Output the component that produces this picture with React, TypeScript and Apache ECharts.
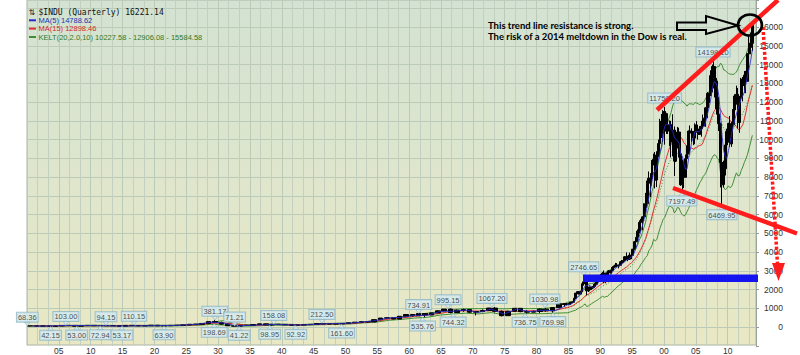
import React, { useEffect, useRef } from "react";
import * as echarts from "echarts";

// ---------- DATA ----------
// Annual bars 1900-1984: [open, close, low, high]
const EARLY_START = 1900;
const EARLY_OHLC: number[][] = [
  [68.1, 70.7, 53.0, 71.0], [70.7, 64.6, 61.5, 78.3], [64.6, 64.3, 59.6, 68.4], [64.3, 49.1, 42.2, 67.7],
  [49.1, 69.6, 46.4, 73.2], [69.6, 96.2, 68.8, 96.6], [96.2, 94.4, 85.2, 103.0], [94.4, 58.8, 53.0, 96.4],
  [58.8, 86.2, 58.6, 88.4], [86.2, 99.1, 79.9, 100.5], [99.1, 81.4, 73.6, 98.3], [81.4, 81.7, 72.9, 87.1],
  [81.7, 87.9, 80.2, 94.2], [87.9, 78.8, 72.1, 88.6], [78.8, 54.6, 53.2, 83.4], [54.6, 99.2, 54.2, 99.2],
  [99.2, 95.0, 85.0, 110.2], [95.0, 74.4, 66.0, 99.2], [74.4, 82.2, 73.4, 89.1], [82.2, 107.2, 79.2, 119.6],
  [107.2, 72.0, 66.8, 109.9], [72.0, 81.1, 63.9, 81.5], [81.1, 98.7, 78.6, 103.4], [98.7, 95.5, 85.8, 105.4],
  [95.5, 120.5, 88.3, 120.5], [120.5, 156.7, 115.0, 159.4], [156.7, 157.2, 135.2, 166.6], [157.2, 202.4, 152.7, 202.4],
  [202.4, 300.0, 191.3, 300.0], [300.0, 248.5, 198.7, 381.2], [248.5, 164.6, 157.5, 294.1], [164.6, 77.9, 73.8, 194.4],
  [77.9, 59.9, 41.2, 79.9], [59.9, 99.9, 50.2, 108.7], [99.9, 104.0, 85.5, 110.7], [104.0, 144.1, 96.7, 148.4],
  [144.1, 179.9, 143.1, 184.9], [179.9, 121.0, 113.6, 194.4], [121.0, 154.8, 99.0, 158.4], [154.8, 150.2, 121.4, 155.9],
  [150.2, 131.1, 111.8, 152.8], [131.1, 111.0, 106.3, 133.6], [111.0, 119.4, 92.9, 119.7], [119.4, 135.9, 119.3, 145.8],
  [135.9, 152.3, 134.2, 152.5], [152.3, 192.9, 151.4, 195.8], [192.9, 177.2, 163.1, 212.5], [177.2, 181.2, 163.2, 186.9],
  [181.2, 177.3, 165.4, 193.2], [177.3, 200.1, 161.6, 200.5], [200.1, 235.4, 196.8, 235.5], [235.4, 269.2, 235.0, 276.4],
  [269.2, 291.9, 256.4, 292.0], [291.9, 280.9, 255.5, 293.8], [280.9, 404.4, 279.9, 404.4], [404.4, 488.4, 388.2, 488.4],
  [488.4, 499.5, 462.4, 521.1], [499.5, 435.7, 419.8, 520.8], [435.7, 583.7, 435.0, 583.7], [583.7, 679.4, 574.5, 679.4],
  [679.4, 615.9, 566.1, 685.5], [615.9, 731.1, 610.3, 734.9], [731.1, 652.1, 535.8, 731.1], [652.1, 762.9, 646.8, 767.2],
  [762.9, 874.1, 762.0, 891.7], [874.1, 969.3, 840.6, 969.3], [969.3, 785.7, 744.3, 995.2], [785.7, 905.1, 785.0, 943.1],
  [905.1, 943.8, 825.1, 985.2], [943.8, 800.4, 769.9, 968.9], [800.4, 838.9, 631.2, 842.0], [838.9, 890.2, 798.0, 950.8],
  [890.2, 1020.0, 889.2, 1036.3], [1020.0, 850.9, 788.3, 1067.2], [850.9, 616.2, 577.6, 891.7], [616.2, 852.4, 616.0, 881.8],
  [852.4, 1004.7, 852.0, 1014.8], [1004.7, 831.2, 800.9, 1004.7], [831.2, 805.0, 736.8, 907.7], [805.0, 838.7, 796.7, 897.6],
  [838.7, 964.0, 759.1, 1000.2], [964.0, 875.0, 824.0, 1031.0], [875.0, 1046.5, 770.0, 1070.6], [1046.5, 1258.6, 1027.0, 1287.2],
  [1258.6, 1211.6, 1086.6, 1286.6],
];

// Quarterly bars 1985Q1-2013Q4: [open, close, low, high]
const LATE_START = 1985;
const LATE_OHLC: number[][] = [
  [1211.6, 1266.8, 1184, 1299], [1266.8, 1335.5, 1230, 1338], [1335.5, 1328.6, 1297, 1372], [1328.6, 1546.7, 1325, 1553],
  [1546.7, 1818.6, 1502, 1822], [1818.6, 1892.7, 1735, 1902], [1892.7, 1767.6, 1755, 1919], [1767.6, 1896.0, 1755, 1955],
  [1896.0, 2304.7, 1895, 2333], [2304.7, 2418.5, 2215, 2445], [2418.5, 2596.3, 2400, 2746.7], [2596.3, 1938.8, 1700, 2662],
  [1938.8, 1988.1, 1879, 2153], [1988.1, 2141.7, 1980, 2164], [2141.7, 2112.9, 1990, 2160], [2112.9, 2168.6, 2038, 2200],
  [2168.6, 2293.6, 2127, 2347], [2293.6, 2440.1, 2270, 2540], [2440.1, 2692.8, 2420, 2791], [2692.8, 2753.2, 2523, 2790],
  [2753.2, 2707.2, 2543, 2834], [2707.2, 2880.7, 2611, 2935], [2880.7, 2452.5, 2344, 3024], [2452.5, 2633.7, 2344, 2650],
  [2633.7, 2913.9, 2447, 3017], [2913.9, 2906.8, 2842, 3046], [2906.8, 3016.8, 2858, 3055], [3016.8, 3168.8, 2836, 3204],
  [3168.8, 3235.5, 3135, 3290], [3235.5, 3318.5, 3181, 3428], [3318.5, 3271.7, 3223, 3419], [3271.7, 3301.1, 3136, 3333],
  [3301.1, 3435.1, 3241, 3505], [3435.1, 3516.1, 3370, 3580], [3516.1, 3555.1, 3434, 3652], [3555.1, 3754.1, 3540, 3794],
  [3754.1, 3636.0, 3580, 3985], [3636.0, 3625.0, 3520, 3810], [3625.0, 3843.2, 3600, 3978], [3843.2, 3834.4, 3630, 3936],
  [3834.4, 4157.7, 3830, 4172], [4157.7, 4556.1, 4140, 4600], [4556.1, 4789.1, 4535, 4801], [4789.1, 5117.1, 4703, 5216],
  [5117.1, 5587.1, 5000, 5691], [5587.1, 5654.6, 5419, 5779], [5654.6, 5882.2, 5170, 5905], [5882.2, 6448.3, 5847, 6605],
  [6448.3, 6583.5, 6395, 7159], [6583.5, 7672.8, 6365, 7812], [7672.8, 7945.3, 7636, 8300], [7945.3, 7908.3, 6936, 8211],
  [7908.3, 8799.8, 7540, 8906], [8799.8, 8952.0, 8627, 9250], [8952.0, 7842.6, 7400, 9338], [7842.6, 9181.4, 7468, 9380],
  [9181.4, 9786.2, 9063, 10001], [9786.2, 10970.8, 9717, 11108], [10970.8, 10337.0, 10080, 11366], [10337.0, 11497.1, 9884, 11568],
  [11497.1, 10921.9, 9731, 11750.2], [10921.9, 10447.9, 10300, 11425], [10447.9, 10650.9, 10300, 11400], [10650.9, 10787.0, 9654, 11020],
  [10787.0, 9878.8, 9047, 11000], [9878.8, 10502.4, 9106, 11350], [10502.4, 8847.6, 8062, 10700], [8847.6, 10021.5, 8800, 10184],
  [10021.5, 10403.9, 9529, 10673], [10403.9, 9243.3, 9043, 10635], [9243.3, 7591.9, 7532, 9300], [7591.9, 8341.6, 7197.5, 8931],
  [8341.6, 7992.1, 7416, 8869], [7992.1, 8985.4, 7992, 9200], [8985.4, 9275.1, 8950, 9686], [9275.1, 10453.9, 9200, 10484],
  [10453.9, 10357.7, 9906, 10753], [10357.7, 10435.5, 9852, 10600], [10435.5, 10080.3, 9708, 10437], [10080.3, 10783.0, 9750, 10868],
  [10783.0, 10503.8, 10368, 10984], [10503.8, 10275.0, 10000, 10650], [10275.0, 10568.7, 10250, 10720], [10568.7, 10717.5, 10156, 11000],
  [10717.5, 11109.3, 10661, 11334], [11109.3, 11150.2, 10700, 11709], [11150.2, 11679.1, 10683, 11727], [11679.1, 12463.2, 11600, 12529],
  [12463.2, 12354.4, 11939, 12796], [12354.4, 13408.6, 12354, 13692], [13408.6, 13895.6, 12518, 14000], [13895.6, 13264.8, 12725, 14198.1],
  [13264.8, 12262.9, 11634, 13280], [12262.9, 11350.0, 11287, 13136], [11350.0, 10850.7, 10459, 11867], [10850.7, 8776.4, 7450, 10900],
  [8776.4, 7608.9, 6470, 9088], [7608.9, 8447.0, 7447, 8877], [8447.0, 9712.3, 8087, 9917], [9712.3, 10428.1, 9430, 10580],
  [10428.1, 10856.6, 9835, 10900], [10856.6, 9774.0, 9600, 11258], [9774.0, 10788.1, 9614, 10948], [10788.1, 11577.5, 10711, 11625],
  [11577.5, 12319.7, 11555, 12419], [12319.7, 12414.3, 11862, 12876], [12414.3, 10913.4, 10597, 12754], [10913.4, 12217.6, 10362, 12330],
  [12217.6, 13212.0, 12150, 13290], [13212.0, 12880.1, 12035, 13338], [12880.1, 13437.1, 12492, 13653], [13437.1, 13104.1, 12471, 13662],
  [13104.1, 14578.5, 13104, 14585], [14578.5, 14909.6, 14434, 15542], [14909.6, 15129.7, 14551, 15709], [15129.7, 16221.1, 14719, 16318],
];

// Indicator values, sparse before 1985 (year-end points)
const EARLY_LINE_YEARS = [1900, 1902, 1906, 1910, 1914, 1918, 1922, 1926, 1928, 1930, 1932, 1934, 1938, 1942, 1946, 1950, 1952, 1954, 1956, 1958, 1960, 1962, 1964, 1966, 1968, 1970, 1972, 1974, 1976, 1978, 1980, 1982, 1984];
const MA5_EARLY = [68, 64, 95, 87, 62, 80, 93, 157, 271, 226, 65, 100, 145, 115, 185, 222, 284, 360, 495, 530, 630, 640, 840, 850, 920, 780, 970, 700, 970, 830, 900, 880, 1195];
const MA15_EARLY = [68, 66, 77, 81, 76, 88, 90, 133, 204, 232, 170, 87, 148, 125, 170, 195, 258, 315, 440, 495, 580, 660, 740, 860, 880, 860, 880, 850, 840, 880, 860, 900, 1056];
const KMID_EARLY = [68, 66, 80, 85, 74, 83, 89, 135, 208, 235, 110, 92, 142, 120, 172, 200, 260, 320, 430, 490, 580, 640, 740, 830, 870, 850, 890, 820, 860, 860, 860, 900, 1050];
const KUP_EARLY = [80, 82, 99, 105, 92, 103, 110, 167, 258, 355, 170, 122, 176, 140, 202, 224, 288, 364, 490, 560, 670, 750, 830, 950, 990, 990, 1000, 980, 1010, 990, 1000, 1050, 1330];
const KLO_EARLY = [56, 50, 61, 64, 56, 63, 67, 102, 158, 115, 50, 62, 108, 100, 142, 176, 232, 276, 370, 420, 490, 530, 650, 710, 750, 710, 780, 660, 710, 730, 720, 750, 770];

// Quarterly indicator values 1985Q1-2013Q4
const MA5_LATE = [
  1196, 1231, 1270, 1338, 1459, 1584, 1671, 1784, 1936, 2056, 2197, 2231, 2249, 2217, 2156, 2070,
  2141, 2231, 2342, 2470, 2577, 2695, 2697, 2685, 2718, 2758, 2785, 2928, 3048, 3129, 3202, 3259,
  3312, 3369, 3416, 3512, 3579, 3617, 3683, 3739, 3819, 4003, 4236, 4491, 4841, 5141, 5406, 5738,
  6031, 6448, 6906, 7312, 7782, 8256, 8290, 8537, 8912, 9347, 9624, 10355, 10703, 10835, 10771, 10861,
  10537, 10453, 10133, 10007, 9931, 9804, 9222, 9120, 8715, 8431, 8437, 9010, 9413, 9902, 10121, 10422,
  10432, 10416, 10442, 10570, 10635, 10764, 11045, 11424, 11751, 12211, 12760, 13077, 13037, 12836, 12325, 11301,
  10170, 9407, 9079, 8995, 9411, 9844, 10312, 10685, 11063, 11375, 11603, 11889, 12215, 12327, 12532, 12970,
  13442, 13782, 14232, 14789,
];
const MA15_LATE = [
  1075, 1108, 1138, 1186, 1253, 1320, 1368, 1419, 1491, 1570, 1659, 1711, 1768, 1830, 1890, 1950,
  2014, 2088, 2165, 2227, 2281, 2356, 2393, 2415, 2448, 2468, 2540, 2619, 2692, 2772, 2846, 2913,
  2979, 3034, 3088, 3157, 3208, 3286, 3367, 3428, 3511, 3614, 3722, 3847, 3999, 4158, 4330, 4530,
  4735, 5009, 5289, 5574, 5919, 6259, 6526, 6861, 7210, 7622, 7970, 8364, 8715, 9020, 9300, 9580,
  9727, 9898, 9960, 10042, 10139, 10232, 10126, 10030, 9831, 9741, 9593, 9562, 9556, 9541, 9494, 9554,
  9554, 9650, 9686, 9707, 9831, 10069, 10291, 10589, 10814, 11089, 11319, 11513, 11634, 11719, 11724, 11608,
  11431, 11289, 11222, 11177, 11157, 11030, 10919, 10867, 10794, 10695, 10539, 10536, 10660, 10795, 11106, 11472,
  11881, 12227, 12541, 12898,
];
const KMID_LATE = [
  1071, 1096, 1118, 1159, 1222, 1286, 1331, 1385, 1473, 1563, 1661, 1688, 1716, 1757, 1791, 1827,
  1871, 1925, 1998, 2070, 2131, 2202, 2226, 2265, 2327, 2382, 2442, 2512, 2580, 2651, 2710, 2766,
  2830, 2895, 2958, 3034, 3091, 3142, 3209, 3268, 3353, 3467, 3593, 3738, 3914, 4080, 4252, 4461,
  4663, 4949, 5235, 5489, 5804, 6104, 6270, 6547, 6855, 7247, 7541, 7918, 8204, 8417, 8630, 8835,
  8935, 9084, 9061, 9153, 9272, 9269, 9110, 9036, 8937, 8942, 8973, 9114, 9233, 9347, 9417, 9547,
  9638, 9699, 9782, 9871, 9989, 10099, 10250, 10460, 10641, 10904, 11189, 11386, 11470, 11458, 11401, 11151,
  10814, 10588, 10505, 10498, 10532, 10460, 10491, 10594, 10759, 10916, 10916, 11040, 11247, 11402, 11596, 11739,
  12010, 12286, 12557, 12906,
];
const KUP_LATE = [
  1347, 1366, 1376, 1437, 1536, 1602, 1647, 1711, 1853, 1951, 2079, 2274, 2298, 2319, 2329, 2345,
  2381, 2437, 2534, 2606, 2671, 2752, 2858, 2895, 3007, 3036, 3070, 3150, 3186, 3245, 3284, 3322,
  3384, 3435, 3488, 3562, 3647, 3700, 3787, 3850, 3945, 4091, 4209, 4394, 4642, 4808, 5054, 5335,
  5603, 6083, 6389, 6783, 7242, 7522, 7934, 8427, 8735, 9217, 9571, 10082, 10556, 10759, 10958, 11203,
  11457, 11802, 12035, 12107, 12158, 12185, 12088, 12064, 11953, 11898, 11781, 11898, 11907, 11903, 11863, 11973,
  11944, 11905, 11862, 11911, 11959, 12075, 12236, 12434, 12589, 12924, 13305, 13584, 13778, 13904, 13885, 14077,
  13970, 13714, 13685, 13590, 13528, 13488, 13483, 13470, 13519, 13604, 13766, 13998, 14137, 14264, 14404, 14505,
  14796, 15014, 15245, 15584.58,
];
const KLO_LATE = [
  795, 826, 860, 881, 908, 970, 1015, 1059, 1093, 1175, 1243, 1102, 1134, 1195, 1253, 1309,
  1361, 1413, 1462, 1534, 1591, 1652, 1594, 1635, 1647, 1728, 1814, 1874, 1974, 2057, 2136, 2210,
  2276, 2355, 2428, 2506, 2535, 2584, 2631, 2686, 2761, 2843, 2977, 3082, 3186, 3352, 3450, 3587,
  3723, 3815, 4081, 4195, 4366, 4686, 4606, 4667, 4975, 5277, 5511, 5754, 5852, 6075, 6302, 6467,
  6413, 6366, 6087, 6199, 6386, 6353, 6132, 6008, 5921, 5986, 6165, 6330, 6559, 6791, 6971, 7121,
  7332, 7493, 7702, 7831, 8019, 8123, 8264, 8486, 8693, 8884, 9073, 9188, 9162, 9012, 8917, 8225,
  7658, 7462, 7325, 7406, 7536, 7432, 7499, 7718, 7999, 8228, 8066, 8082, 8357, 8540, 8788, 8973,
  9224, 9558, 9869, 10227.58,
];

// Price call-outs: [date (year), value, text, side]
const CALLOUTS: [number, number, string, "top" | "bottom"][] = [
  [1900.05, 68.36, "68.36", "top"], [1903.7, 42.15, "42.15", "bottom"], [1906.1, 103.0, "103.00", "top"],
  [1907.8, 53.0, "53.00", "bottom"], [1912.4, 94.15, "94.15", "top"], [1911.5, 72.94, "72.94", "bottom"],
  [1914.9, 53.17, "53.17", "bottom"], [1916.8, 110.15, "110.15", "top"], [1921.5, 63.9, "63.90", "bottom"],
  [1929.5, 381.17, "381.17", "top"], [1929.4, 198.69, "198.69", "bottom"], [1932.6, 71.21, "71.21", "top"],
  [1933.3, 41.22, "41.22", "bottom"], [1938.75, 158.08, "158.08", "top"], [1938.1, 98.95, "98.95", "bottom"],
  [1942.2, 92.92, "92.92", "bottom"], [1946.3, 212.5, "212.50", "top"], [1949.4, 161.6, "161.60", "bottom"],
  [1961.5, 734.91, "734.91", "top"], [1962.1, 535.76, "535.76", "bottom"], [1966.1, 995.15, "995.15", "top"],
  [1966.9, 744.32, "744.32", "bottom"], [1973.0, 1067.2, "1067.20", "top"], [1978.2, 736.75, "736.75", "bottom"],
  [1981.3, 1030.98, "1030.98", "top"], [1982.55, 769.98, "769.98", "bottom"], [1987.4, 2746.65, "2746.65", "top"],
  [2000.1, 11750.2, "11750.20", "top"], [2002.8, 7197.49, "7197.49", "bottom"], [2007.7, 14198.1, "14198.10", "top"],
  [2009.1, 6469.95, "6469.95", "bottom"],
];

const HEADER_TITLE = "$INDU (Quarterly) 16221.14";
const HEADER_MA5 = "MA(5) 14788.62";
const HEADER_MA15 = "MA(15) 12898.46";
const HEADER_KELT = "KELT(20,2.0,10) 10227.58 - 12906.08 - 15584.58";
const NOTE_1 = "This trend line resistance is strong.";
const NOTE_2 = "The risk of a 2014 meltdown in the Dow is real.";

// ---------- helpers ----------
const earlyX = (i: number) => EARLY_START + i + 0.5;
const lateX = (i: number) => LATE_START + 0.125 + i * 0.25;
const linePts = (early: number[], late: number[]) => [
  ...EARLY_LINE_YEARS.map((y, i) => [y + 0.875, early[i]]),
  ...late.map((v, i) => [lateX(i), v]),
];

const BLUE = "#2a2ad0";
const RED = "#e23030";
const GREEN = "#3f8f35";

export default function App() {
  const ref = useRef<HTMLDivElement>(null);
  useEffect(() => {
    if (!ref.current) return;
    const chart = echarts.init(ref.current, undefined, { renderer: "svg" });
    const bg = new echarts.graphic.LinearGradient(0, 0, 0, 1, [
      { offset: 0, color: "#d3e2d2" },
      { offset: 0.55, color: "#dfe6cc" },
      { offset: 1, color: "#e9e8c4" },
    ]);
    const txt = (text: string, x: number, y: number, fill: string, font: string) => ({
      type: "text", x, y, z: 50,
      style: { text, fill, font, verticalAlign: "middle", align: "left" },
    });
    const candleStyle = { color: "#000", color0: "#000", borderColor: "#000", borderColor0: "#000", borderWidth: 1 };
    const option: any = {
      animation: false,
      grid: { left: 27, right: 44, top: 0, bottom: 8.72 },
      xAxis: {
        type: "value", min: 1900, max: 2014.45, interval: 5,
        axisLine: { show: false }, axisTick: { show: false },
        axisLabel: {
          margin: 0, fontSize: 8.5, color: "#333", fontFamily: "Liberation Sans",
          formatter: (v: number) => {
            const r = Math.round(v);
            if (Math.abs(v - r) > 1e-6 || r % 5 !== 0 || r === 1900) return "";
            return String(r % 100).padStart(2, "0");
          },
        },
        splitLine: { show: true, showMaxLine: false, lineStyle: { color: "#bccab8", width: 1 } },
        minorTick: { show: false, splitNumber: 3 },
        minorSplitLine: { show: true, lineStyle: { color: "#c3d0bf", width: 1 } },
      },
      yAxis: {
        type: "value", position: "right", min: -1000, max: 17439, interval: 1000,
        axisLine: { show: true, lineStyle: { color: "#9aa69a" } },
        axisTick: { show: true, length: 3, lineStyle: { color: "#999" } },
        axisLabel: {
          align: "right", margin: 27, fontSize: 8.5, color: "#333", fontFamily: "Liberation Sans",
          formatter: (v: number) => (v < 0 || v > 16000 ? "" : String(v)),
        },
        splitLine: { show: true, showMinLine: false, showMaxLine: false, lineStyle: { color: "#bccab8" } },
      },
      series: [
        { type: "line", z: 2, symbol: "none", data: linePts(KUP_EARLY, KUP_LATE), lineStyle: { color: GREEN, width: 1 } },
        { type: "line", z: 2, symbol: "none", data: linePts(KLO_EARLY, KLO_LATE), lineStyle: { color: GREEN, width: 1 } },
        { type: "line", z: 2, symbol: "none", data: linePts(KMID_EARLY, KMID_LATE), lineStyle: { color: GREEN, width: 1, type: [1, 2] } },
        { type: "line", z: 3, symbol: "none", data: linePts(MA15_EARLY, MA15_LATE), lineStyle: { color: RED, width: 1 } },
        {
          type: "candlestick", barWidth: 5, z: 4,
          data: EARLY_OHLC.map((r, i) => [earlyX(i), r[0], r[1], r[2], r[3]]),
          itemStyle: candleStyle,
        },
        {
          type: "candlestick", barWidth: 2.4, z: 4,
          data: LATE_OHLC.map((r, i) => [lateX(i), r[0], r[1], r[2], r[3]]),
          itemStyle: candleStyle,
        },
        { type: "line", z: 5, symbol: "none", data: linePts(MA5_EARLY, MA5_LATE), lineStyle: { color: BLUE, width: 1, opacity: 0.85 } },
        {
          type: "scatter", z: 8, clip: false, symbol: "triangle", symbolSize: [6, 4],
          itemStyle: { color: "#d6ebf1", borderColor: "#8db5c5", borderWidth: 0.8 },
          data: CALLOUTS.map(([x, v, t, side]) => ({
            value: [x, v],
            symbolRotate: side === "top" ? 180 : 0,
            symbolOffset: side === "top" ? [0, -2] : [0, 2],
            label: { position: side, formatter: t },
          })),
          label: {
            show: true, distance: 0, fontSize: 7.5, fontFamily: "Liberation Sans", color: "#222",
            backgroundColor: "#d6ebf1", borderColor: "#8db5c5", borderWidth: 1, padding: [1, 1, 0, 1],
          },
        },
      ],
      graphic: [
        {
          type: "rect", z: -10, silent: true,
          shape: { x: 27, y: 0, width: 729, height: 345 },
          style: { fill: bg, stroke: "#a9b5a6", lineWidth: 1 },
        },
        // header
        txt("⇅", 28.5, 12.3, "#222", "8px DejaVu Sans"),
        txt(HEADER_TITLE, 38.5, 12.3, "#111", "8px DejaVu Sans Mono"),
        { type: "line", z: 50, shape: { x1: 29, y1: 20.3, x2: 36, y2: 20.3 }, style: { stroke: BLUE, lineWidth: 2 } },
        txt(HEADER_MA5, 38.5, 20.5, "#2233b0", "7.5px Liberation Sans"),
        { type: "line", z: 50, shape: { x1: 29, y1: 28.6, x2: 36, y2: 28.6 }, style: { stroke: RED, lineWidth: 2 } },
        txt(HEADER_MA15, 38.5, 28.8, "#d42a2a", "7.5px Liberation Sans"),
        { type: "line", z: 50, shape: { x1: 29, y1: 37, x2: 36, y2: 37 }, style: { stroke: GREEN, lineWidth: 2 } },
        txt(HEADER_KELT, 38.5, 37.2, "#2f7a2a", "7.5px Liberation Sans"),
        // annotation text
        txt(NOTE_1, 488, 25, "#000", "bold 9.5px Lato"),
        txt(NOTE_2, 488, 36.5, "#000", "bold 9.5px Lato"),
        // outlined arrow
        {
          type: "polygon", z: 50,
          shape: { points: [[677, 22.5], [706, 22.5], [706, 16], [738, 25.5], [706, 34], [706, 30], [677, 30]] },
          style: { fill: "none", stroke: "#000", lineWidth: 2 },
        },
        // circle
        { type: "ellipse", z: 51, shape: { cx: 750, cy: 25, rx: 12, ry: 10.5 }, style: { fill: "none", stroke: "#000", lineWidth: 2.6 } },
        // red trend lines
        { type: "line", z: 49, shape: { x1: 657, y1: 110, x2: 778, y2: 0 }, style: { stroke: "#ff1c1c", lineWidth: 4.5 } },
        { type: "line", z: 49, shape: { x1: 673, y1: 188, x2: 797, y2: 233.5 }, style: { stroke: "#ff1c1c", lineWidth: 4.5 } },
        // red dotted arrow
        { type: "line", z: 49, shape: { x1: 763, y1: 27, x2: 777.5, y2: 264 }, style: { stroke: "#ff1c1c", lineWidth: 3.5, lineDash: [3, 2] } },
        { type: "polygon", z: 49, shape: { points: [[772, 263], [785, 263], [778.5, 281]] }, style: { fill: "#ff1c1c" } },
        // blue support bar
        { type: "rect", z: 49, shape: { x: 583, y: 274.5, width: 175, height: 7.5 }, style: { fill: "#1414f0" } },
      ],
    };
    chart.setOption(option);
    return () => chart.dispose();
  }, []);
  return (
    <div
      ref={ref}
      style={{ position: "fixed", left: 0, top: 0, width: 800, height: 355, background: "#fff" }}
    />
  );
}
